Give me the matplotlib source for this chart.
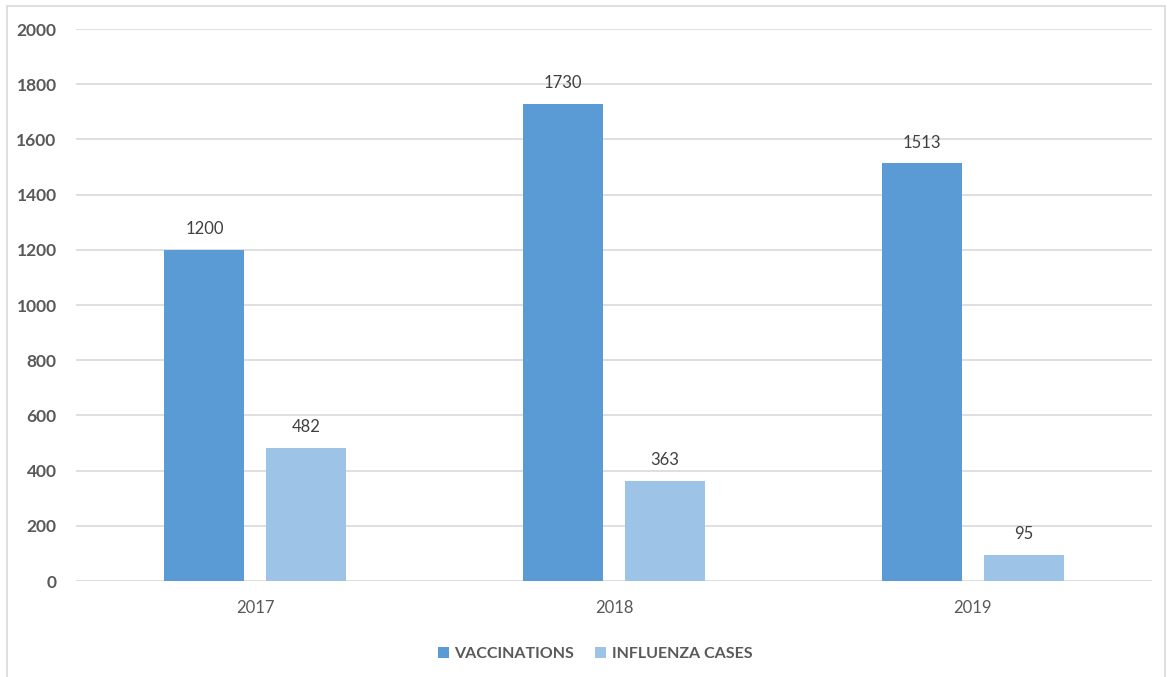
import matplotlib.pyplot as plt
import numpy as np
from matplotlib.patches import Rectangle

years = ["2017", "2018", "2019"]
vaccinations = [1200, 1730, 1513]
influenza = [482, 363, 95]
series_names = ["VACCINATIONS", "INFLUENZA CASES"]
yticks = list(range(0, 2001, 200))

dark = "#5B9BD5"
light = "#9DC3E6"
txt = "#595959"
grid = "#D9D9D9"

plt.rcParams["font.family"] = ["Lato", "DejaVu Sans"]

fig = plt.figure(figsize=(11.71, 6.77), dpi=100)
ax = fig.add_axes([76 / 1171, 1 - 581 / 677, 1076 / 1171, 552 / 677])

# chart border
fig.patches.append(
    Rectangle((7 / 1171, -0.01), 1158 / 1171, 1 - 6 / 677 + 0.01,
              transform=fig.transFigure, fill=False, edgecolor=grid, linewidth=1.2)
)

x = np.arange(len(years))
w = 0.223
gap = 0.061
off = (w + gap) / 2
b1 = ax.bar(x - off, vaccinations, w, color=dark, label=series_names[0], zorder=3)
b2 = ax.bar(x + off, influenza, w, color=light, label=series_names[1], zorder=3)

for bars, vals in [(b1, vaccinations), (b2, influenza)]:
    for b, v in zip(bars, vals):
        ax.annotate(str(v), (b.get_x() + b.get_width() / 2, v), xytext=(0, 9),
                    textcoords="offset points", ha="center", va="bottom",
                    fontsize=12, color="#404040")

ax.set_xlim(-0.5, 2.5)
ax.set_ylim(0, 2000)
ax.set_yticks(yticks)
ax.set_yticklabels([str(t) for t in yticks], fontsize=12.5, fontweight="bold", color=txt)
ax.set_xticks(x)
ax.set_xticklabels(years, fontsize=12, color=txt)
ax.tick_params(axis="both", length=0)
ax.tick_params(axis="y", pad=14)
ax.tick_params(axis="x", pad=14)
ax.yaxis.grid(True, color=grid, linewidth=1.2, zorder=0)
ax.set_axisbelow(True)
for s in ax.spines.values():
    s.set_visible(False)

leg = fig.legend(loc="center", bbox_to_anchor=(595 / 1171, 1 - 654 / 677), ncol=2,
                 frameon=False, handlelength=0.7, handleheight=0.7, handletextpad=0.35,
                 columnspacing=1.3, prop={"weight": "bold", "size": 11.5})
for t in leg.get_texts():
    t.set_color(txt)

fig.savefig("out.png", dpi=100)
